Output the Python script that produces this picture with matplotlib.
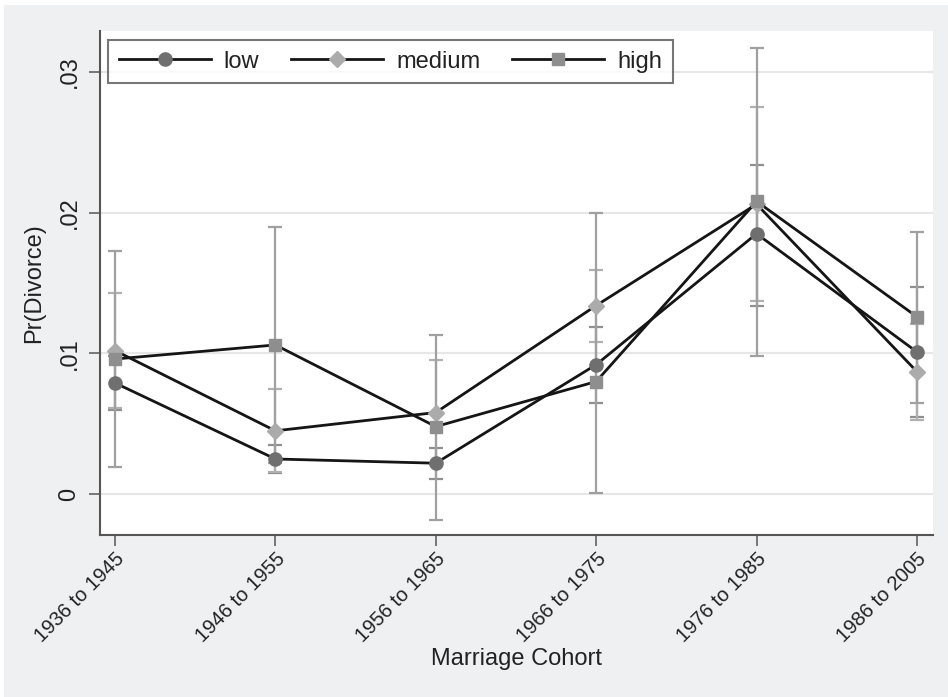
import numpy as np
import matplotlib
matplotlib.use("Agg")
import matplotlib.pyplot as plt
from matplotlib.patches import Rectangle

plt.rcParams['font.family'] = ['Liberation Sans', 'DejaVu Sans']

cohorts = ['1936 to 1945', '1946 to 1955', '1956 to 1965',
           '1966 to 1975', '1976 to 1985', '1986 to 2005']

low = [0.0079, 0.0025, 0.0022, 0.0092, 0.0185, 0.0101]
low_lo = [0.0060, 0.0015, 0.0011, 0.0065, 0.0134, 0.0055]
low_hi = [0.0098, 0.0035, 0.0033, 0.0119, 0.0234, 0.0147]

medium = [0.0102, 0.0045, 0.0058, 0.0134, 0.0206, 0.0087]
medium_lo = [0.0061, 0.0016, 0.0021, 0.0108, 0.0137, 0.0053]
medium_hi = [0.0143, 0.0075, 0.0095, 0.0159, 0.0275, 0.0121]

high = [0.0096, 0.0106, 0.0048, 0.0080, 0.0208, 0.0126]
high_lo = [0.0019, 0.0022, -0.0018, 0.0001, 0.0098, 0.0065]
high_hi = [0.0173, 0.0190, 0.0113, 0.0200, 0.0317, 0.0186]

yticks = [0, 0.01, 0.02, 0.03]
ytick_labels = ['0', '.01', '.02', '.03']

W, H = 948, 697
fig = plt.figure(figsize=(W / 100, H / 100), dpi=100, facecolor='white')
# grey graph region with a thin white border at the top/left
fig.patches.append(Rectangle((4 / W, 0), 1 - 4 / W, (H - 5) / H,
                             transform=fig.transFigure, facecolor='#eff0f2',
                             edgecolor='none', zorder=-10))

ax = fig.add_axes([100 / W, (H - 535) / H, 833 / W, 504 / H])
ax.set_facecolor('white')

x = np.arange(len(cohorts))

series = [
    ('low', low, low_lo, low_hi, 'o', '#6f6f6f', '#8f8f8f', 9.5),
    ('medium', medium, medium_lo, medium_hi, 'D', '#ababab', '#b0b0b0', 8.5),
    ('high', high, high_lo, high_hi, 's', '#8e8e8e', '#a0a0a0', 8.5),
]

# confidence intervals first so the lines sit on top
for name, v, lo, hi, m, mc, ec, ms in series:
    v = np.array(v)
    err = [v - np.array(lo), np.array(hi) - v]
    ax.errorbar(x, v, yerr=err, fmt='none', ecolor=ec, elinewidth=1.6,
                capsize=4.8, capthick=1.6, zorder=2)

for name, v, lo, hi, m, mc, ec, ms in series:
    ax.plot(x, v, color='#151515', lw=2.0, marker=m, ms=ms,
            markerfacecolor=mc, markeredgecolor=mc, label=name, zorder=3)

ax.set_xlim(-0.0935, 5.1)
ax.set_ylim(-0.0029, 0.0329)

ax.set_yticks(yticks)
ax.set_yticklabels(ytick_labels, rotation=90, va='center', fontsize=17)
ax.set_xticks(x)
ax.set_xticklabels(cohorts, rotation=45, ha='right', rotation_mode='anchor',
                   fontsize=14.5)

ax.grid(axis='y', color='#e6e6e6', lw=1.5, zorder=0)
ax.set_axisbelow(True)

for s in ['top', 'right']:
    ax.spines[s].set_visible(False)
for s in ['left', 'bottom']:
    ax.spines[s].set_color('#555555')
    ax.spines[s].set_linewidth(1.5)

ax.tick_params(axis='both', colors='#555555', length=8, width=1.1,
               labelcolor='#222222')
ax.tick_params(axis='y', pad=6)
ax.tick_params(axis='x', pad=2)

ax.set_xlabel('Marriage Cohort', fontsize=17, color='#222222', labelpad=2)
ax.set_ylabel('Pr(Divorce)', fontsize=17, color='#222222', labelpad=10)

leg = ax.legend(loc='upper left', bbox_to_anchor=(8 / 833, 1 - 9 / 504),
                ncol=3, fontsize=17, frameon=True, fancybox=False,
                handlelength=3.9, handletextpad=0.55, columnspacing=1.35,
                borderpad=0.45, borderaxespad=0, numpoints=1)
leg.get_frame().set_edgecolor('#555555')
leg.get_frame().set_linewidth(1.5)
for t in leg.get_texts():
    t.set_color('#222222')

fig.savefig('out.png', dpi=100, facecolor=fig.get_facecolor())
